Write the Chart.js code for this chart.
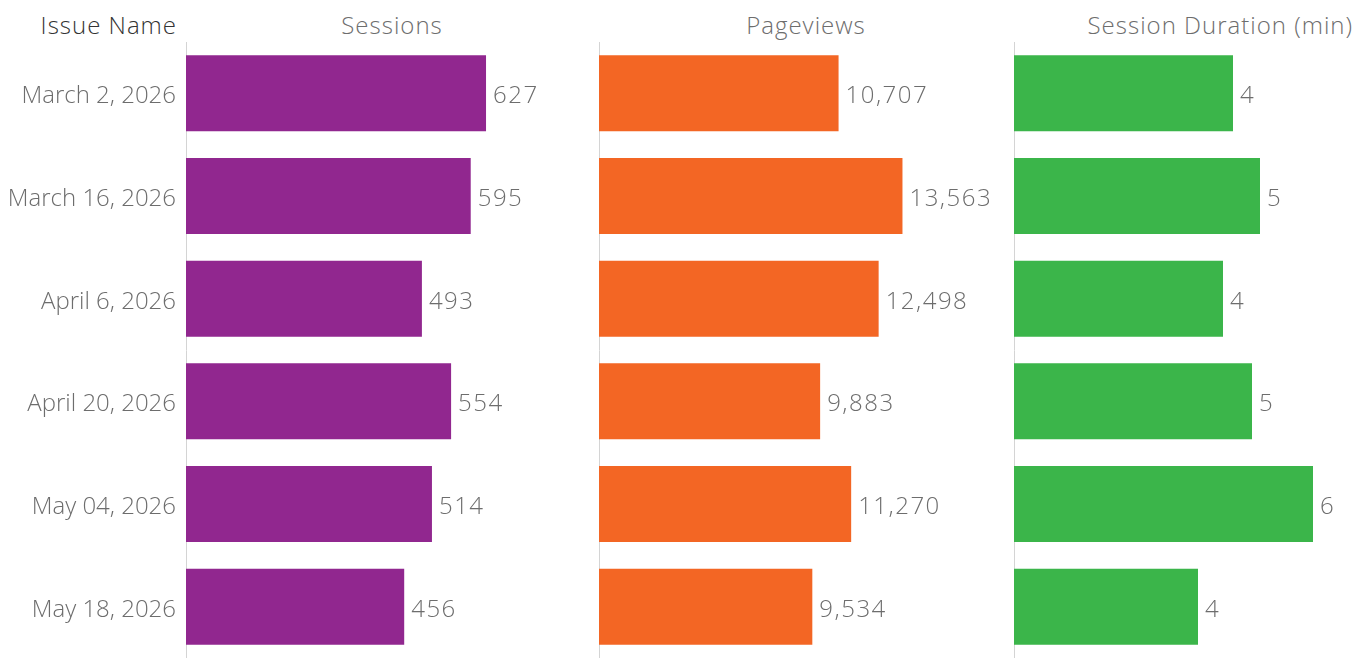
<!DOCTYPE html>
<html>
<head>
<meta charset="utf-8">
<script src="https://cdn.jsdelivr.net/npm/chart.js@4.4.1/dist/chart.umd.min.js"></script>
<style>
    html, body { margin: 0; padding: 0; background: #fff; }
    body { width: 1355px; height: 658px; position: relative; overflow: hidden; font-family: "Open Sans", sans-serif; font-weight: 300; }
    .hdr { position: absolute; top: 9px; font-size: 24px; line-height: 1.362; letter-spacing: 1px; color: #6d6d6d; white-space: nowrap; }
    .pane { position: absolute; top: 42px; height: 616px; }
</style>
</head>
<body>
<div class="hdr" style="right: 1178px; color: #333;">Issue Name</div>
<div class="hdr" style="left: 186px; width: 412px; text-align: center;">Sessions</div>
<div class="hdr" style="left: 599px; width: 414px; text-align: center;">Pageviews</div>
<div class="hdr" style="right: 2px;">Session Duration (min)</div>

<div class="pane" style="left: 0; width: 598px;"><canvas id="c1"></canvas></div>
<div class="pane" style="left: 598px; width: 408px;"><canvas id="c2"></canvas></div>
<div class="pane" style="left: 1013px; width: 342px;"><canvas id="c3"></canvas></div>

<script>
const issues = ["March 2, 2026", "March 16, 2026", "April 6, 2026", "April 20, 2026", "May 04, 2026", "May 18, 2026"];
const sessions = [627, 595, 493, 554, 514, 456];
const pageviews = [10707, 13563, 12498, 9883, 11270, 9534];
// duration in minutes (labels are shown rounded)
const duration = [4.38, 4.92, 4.18, 4.76, 5.98, 3.68];

const FONT = '"Open Sans", sans-serif';
const TEXT = '#6d6d6d';

// value labels to the right of each bar
const barLabels = {
    id: 'barLabels',
    afterDatasetsDraw(chart, args, opts) {
        const ctx = chart.ctx;
        const ds = chart.data.datasets[0];
        ctx.save();
        ctx.font = '300 24px ' + FONT;
        ctx.letterSpacing = '1.5px';
        ctx.fillStyle = TEXT;
        ctx.textAlign = 'left';
        ctx.textBaseline = 'alphabetic';
        chart.getDatasetMeta(0).data.forEach((bar, i) => {
            ctx.fillText(opts.format(ds.data[i]), bar.x + 7, bar.y + 10);
        });
        ctx.restore();
    }
};

function makeChart(id, data, color, max, showLabels, fmt) {
    return new Chart(document.getElementById(id), {
        type: 'bar',
        data: {
            labels: issues,
            datasets: [{
                data: data,
                backgroundColor: color,
                categoryPercentage: 1,
                barPercentage: 0.74
            }]
        },
        plugins: [barLabels],
        options: {
            indexAxis: 'y',
            animation: false,
            responsive: true,
            maintainAspectRatio: false,
            layout: { padding: 0 },
            scales: {
                x: { display: false, min: 0, max: max },
                y: {
                    grid: { display: false, drawTicks: false },
                    border: { color: '#d4d4d4' },
                    ticks: {
                        display: showLabels,
                        padding: 10,
                        labelOffset: 3,
                        color: TEXT,
                        font: { family: FONT, size: 24, weight: 300 }
                    },
                    afterFit(scale) {
                        scale.width = showLabels ? 186 : 1;
                        scale.paddingTop = 0;
                        scale.paddingBottom = 0;
                    }
                }
            },
            plugins: {
                legend: { display: false },
                tooltip: { enabled: false },
                barLabels: { format: fmt }
            }
        }
    });
}

makeChart('c1', sessions, '#91278f', 861, true, v => v.toLocaleString('en-US'));
makeChart('c2', pageviews, '#f36624', 18190, false, v => v.toLocaleString('en-US'));
makeChart('c3', duration, '#3bb54a', 6.82, false, v => String(Math.round(v)));
</script>
</body>
</html>
